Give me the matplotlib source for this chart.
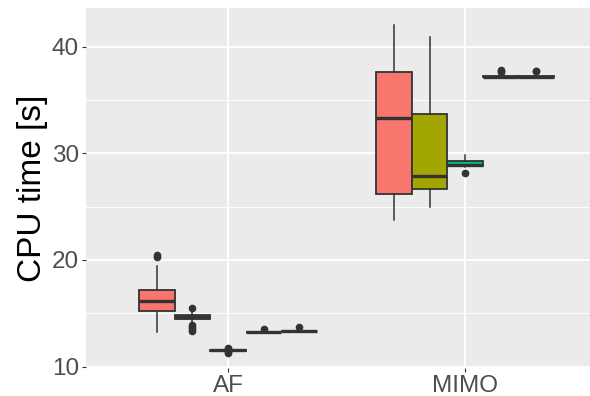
import matplotlib
matplotlib.use("Agg")
from matplotlib import pyplot as plt
import numpy as np

plt.rcParams['font.family'] = ['Liberation Sans', 'DejaVu Sans']

# categories and the five series (dodged inside each category)
categories = ['AF', 'MIMO']
series_colors = ['#F8766D', '#A3A500', '#00BF7D', '#00B0F6', '#E76BF3']

# box statistics, one list per category (5 series each)
af_whislo = [13.21, 14.05, 11.45, 13.21, 13.30]
af_q1 = [15.24, 14.43, 11.48, 13.22, 13.31]
af_med = [16.18, 14.67, 11.52, 13.24, 13.33]
af_q3 = [17.18, 14.86, 11.56, 13.26, 13.35]
af_whishi = [19.43, 15.24, 11.60, 13.28, 13.37]
af_fliers = [[20.46, 20.30], [15.52, 13.90, 13.70, 13.50, 13.35],
             [11.75, 11.68, 11.35, 11.28], [13.49], [13.66]]

mimo_whislo = [23.74, 24.99, 28.75, 37.15, 37.15]
mimo_q1 = [26.18, 26.62, 28.85, 37.17, 37.17]
mimo_med = [33.28, 27.87, 28.92, 37.19, 37.19]
mimo_q3 = [37.65, 33.66, 29.28, 37.21, 37.21]
mimo_whishi = [42.04, 40.88, 29.81, 37.23, 37.23]
mimo_fliers = [[], [], [28.12], [37.65, 37.72, 37.80], [37.70, 37.76]]

fig = plt.figure(figsize=(5.9, 3.96), dpi=100)
ax = fig.add_axes([86 / 590, 28 / 396, 504 / 590, 360 / 396])
ax.set_facecolor('#EBEBEB')
for s in ax.spines.values():
    s.set_visible(False)

# grid like ggplot theme_gray
for y in [15, 25, 35]:
    ax.axhline(y, color='white', lw=0.7, zorder=0)
for y in [10, 20, 30, 40]:
    ax.axhline(y, color='white', lw=1.4, zorder=0)
for x in [1, 2]:
    ax.axvline(x, color='white', lw=1.4, zorder=0)

box_w = 0.15
offsets = (np.arange(5) - 2) * box_w

groups = [
    (af_whislo, af_q1, af_med, af_q3, af_whishi, af_fliers),
    (mimo_whislo, mimo_q1, mimo_med, mimo_q3, mimo_whishi, mimo_fliers),
]
for ci, (wlo, q1, med, q3, whi, fl) in enumerate(groups):
    stats = []
    for k in range(5):
        stats.append({'whislo': wlo[k], 'q1': q1[k], 'med': med[k], 'q3': q3[k],
                      'whishi': whi[k], 'fliers': fl[k]})
    bp = ax.bxp(stats, positions=ci + 1 + offsets, widths=box_w, patch_artist=True,
                showcaps=False, manage_ticks=False,
                boxprops=dict(edgecolor='#333333', linewidth=1.3),
                medianprops=dict(color='#333333', linewidth=2.4),
                whiskerprops=dict(color='#333333', linewidth=1.1),
                flierprops=dict(marker='o', markerfacecolor='#333333',
                                markeredgecolor='#333333', markersize=4.5))
    for patch, col in zip(bp['boxes'], series_colors):
        patch.set_facecolor(col)

ax.set_xlim(0.401, 2.527)
ax.set_ylim(9.86, 43.63)
ax.set_xticks([1, 2])
ax.set_xticklabels(categories)
ax.set_yticks([10, 20, 30, 40])
ax.tick_params(axis='both', colors='#333333', labelcolor='#4D4D4D',
               labelsize=17.5, length=3, width=0.8, pad=2)
ax.set_ylabel('CPU time [s]', fontsize=24, color='black', labelpad=3)

fig.savefig('out.png', dpi=100)
